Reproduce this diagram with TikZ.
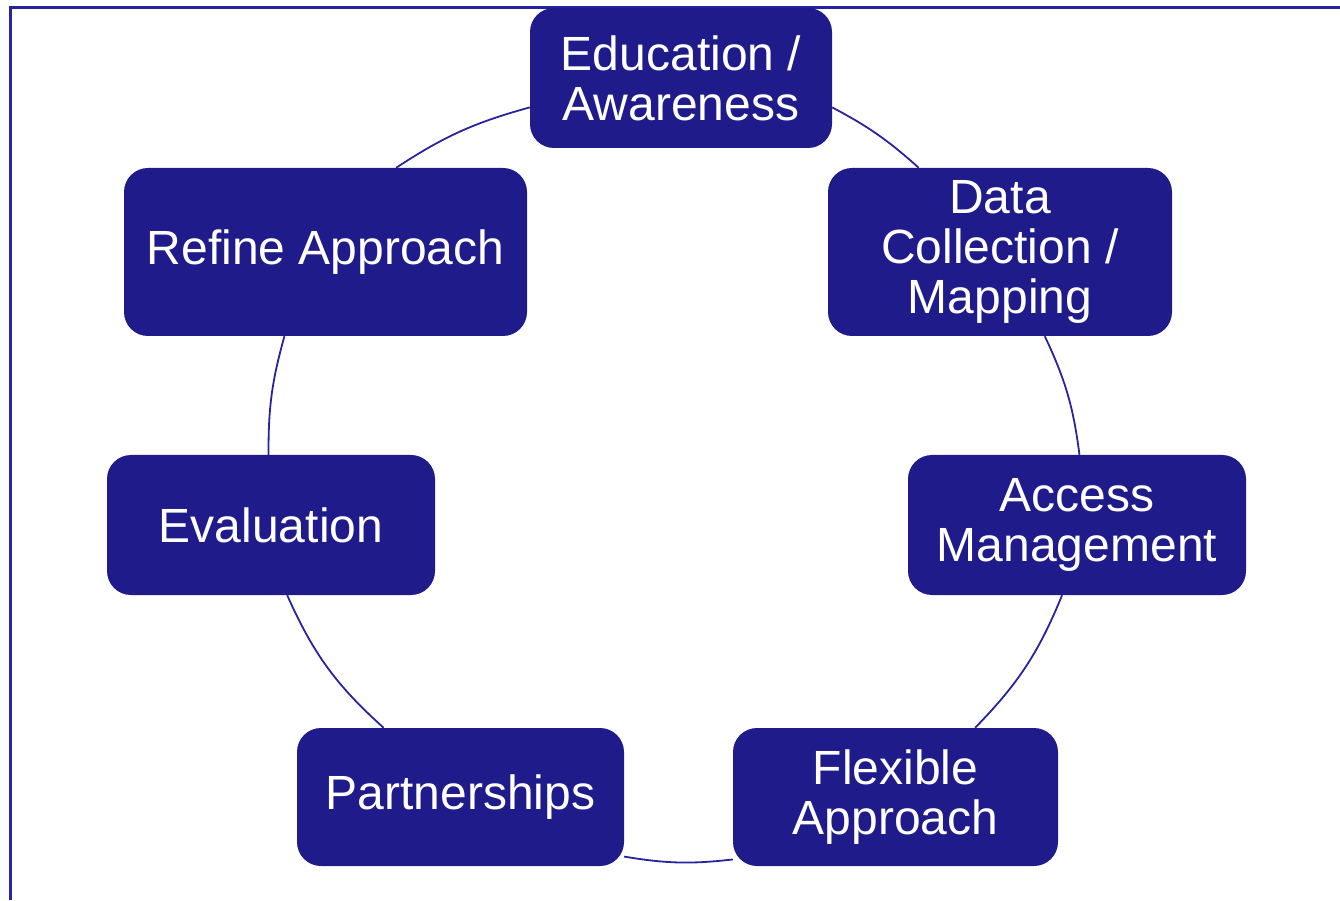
\documentclass[tikz,border=0pt]{standalone}
\usepackage{fontspec}
\setmainfont{Liberation Sans}
\usetikzlibrary{calc}
\definecolor{navy}{RGB}{31,27,138}
\definecolor{rim}{RGB}{40,36,160}

\begin{document}
\begin{tikzpicture}[x=1pt,y=1pt,
    stage/.style={draw=none, fill=navy, rounded corners=24pt, text=white, align=center,
        inner sep=0pt, font=\fontsize{48}{50}\selectfont},
    link/.style={draw=rim, line width=1.8pt}]
            \useasboundingbox (0,0) rectangle (1340,900);
            \draw[rim, line width=2.2pt] (10.5,0) -- (10.5,892.5) -- (1340,892.5);
            \node[stage, minimum width=302pt, minimum height=140pt] (edu) at (681,822) {Education /\\Awareness};
            \node[stage, minimum width=344pt, minimum height=168pt] (data) at (1000,648) {Data\\Collection /\\Mapping};
            \node[stage, minimum width=338pt, minimum height=140pt] (access) at (1077,375) {Access\\Management};
            \node[stage, minimum width=325pt, minimum height=138pt] (flex) at (895.5,103) {Flexible\\Approach};
            \node[stage, minimum width=327pt, minimum height=138pt] (part) at (460.5,103) {Partnerships};
            \node[stage, minimum width=328pt, minimum height=140pt] (eval) at (271,375) {Evaluation};
            \node[stage, minimum width=403pt, minimum height=168pt] (refine) at (325.5,648) {Refine Approach};
            \draw[link] (edu.349) to[bend left=7] (data.134);
            \draw[link] (data.298) to[bend left=9] (access.88);
            \draw[link] (access.258) to[bend left=11] (flex.41);
            \draw[link] (flex.201) to[bend left=8] (part.340);
            \draw[link] (part.138) to[bend left=12] (eval.283);
            \draw[link] (eval.92) to[bend left=8] (refine.244);
            \draw[link] (refine.50) to[bend left=9] (edu.191);
        \end{tikzpicture}
\end{document}
